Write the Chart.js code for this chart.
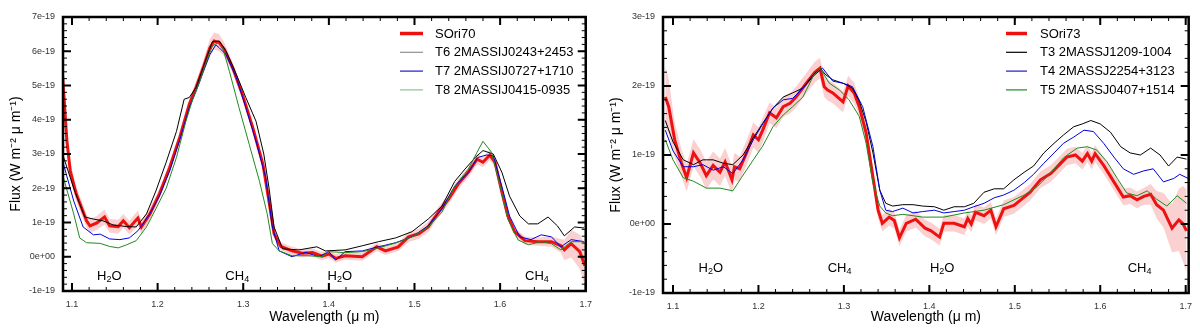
<!DOCTYPE html>
<html><head><meta charset="utf-8">
<script src="https://cdn.jsdelivr.net/npm/chart.js@4/dist/chart.umd.min.js"></script>
<style>
html,body{margin:0;padding:0;background:#fff;}
#wrap{display:flex;width:1200px;height:330px;}
canvas{display:block;}
</style></head><body>
<div id="wrap"><canvas id="c1" width="600" height="330"></canvas><canvas id="c2" width="600" height="330"></canvas></div>
<script>
// Flux values are in units of 1e-19 W m^-2 um^-1 ; wavelengths in um
// ---------- Left panel: SOri70 ----------
const wlL_sori = [1.089,1.094,1.098,1.105,1.117,1.121,1.129,1.138,1.144,1.154,1.160,1.167,1.177,1.181,1.191,1.202,1.214,1.226,1.237,1.245,1.253,1.261,1.266,1.272,1.278,1.288,1.299,1.311,1.323,1.330,1.336,1.344,1.357,1.369,1.381,1.392,1.400,1.408,1.419,1.439,1.456,1.466,1.481,1.493,1.505,1.516,1.528,1.540,1.551,1.563,1.573,1.580,1.588,1.594,1.602,1.609,1.617,1.629,1.644,1.660,1.671,1.675,1.683,1.693,1.699];
const fxL_sori = [5.3,3.4,2.5,1.83,1.05,0.9,0.99,1.16,0.9,0.88,1.05,0.85,1.13,0.87,1.25,1.83,2.6,3.5,4.45,4.95,5.5,6.1,6.3,6.25,6.05,5.5,4.74,3.78,2.7,1.63,0.67,0.3,0.17,0.1,0.12,0.02,0.08,-0.05,0.03,0.0,0.29,0.17,0.29,0.58,0.67,0.87,1.3,1.69,2.12,2.47,2.85,2.76,2.97,2.76,1.89,1.19,0.73,0.47,0.44,0.44,0.32,0.2,0.38,0.15,-0.26];
const erL_sori = [0.35,0.3,0.25,0.22,0.2,0.2,0.2,0.22,0.2,0.2,0.2,0.2,0.22,0.2,0.18,0.15,0.15,0.15,0.15,0.18,0.2,0.25,0.25,0.25,0.2,0.15,0.12,0.12,0.12,0.12,0.12,0.12,0.12,0.12,0.12,0.12,0.12,0.12,0.12,0.12,0.12,0.12,0.12,0.15,0.15,0.15,0.15,0.15,0.15,0.15,0.15,0.15,0.15,0.15,0.15,0.12,0.12,0.12,0.12,0.15,0.2,0.3,0.4,0.5,0.6];
const wlL_t6 = [1.089,1.102,1.115,1.125,1.136,1.148,1.164,1.175,1.187,1.198,1.210,1.222,1.231,1.237,1.245,1.257,1.264,1.272,1.280,1.292,1.303,1.315,1.324,1.330,1.336,1.346,1.365,1.386,1.396,1.419,1.439,1.458,1.478,1.497,1.516,1.532,1.547,1.559,1.571,1.580,1.592,1.602,1.611,1.623,1.633,1.644,1.656,1.667,1.675,1.687,1.698];
const fxL_t6 = [3.0,2.0,1.16,1.1,1.05,0.93,0.88,0.87,1.25,1.92,2.76,3.66,4.6,4.65,4.95,5.8,6.28,6.3,6.0,5.32,4.65,3.95,3.0,2.03,0.87,0.23,0.2,0.29,0.17,0.2,0.32,0.44,0.55,0.73,1.1,1.48,2.2,2.56,2.9,3.1,3.0,2.47,1.77,1.19,0.96,0.96,1.16,0.9,0.61,0.87,0.84];
const wlL_t7 = [1.089,1.102,1.113,1.125,1.133,1.144,1.156,1.167,1.177,1.191,1.202,1.214,1.226,1.237,1.245,1.253,1.261,1.268,1.272,1.280,1.292,1.303,1.315,1.326,1.334,1.342,1.357,1.373,1.388,1.400,1.408,1.419,1.439,1.458,1.478,1.497,1.516,1.532,1.547,1.563,1.574,1.584,1.592,1.602,1.611,1.623,1.636,1.648,1.660,1.671,1.683,1.698];
const fxL_t7 = [2.8,1.63,0.87,0.64,0.66,0.52,0.5,0.55,0.76,1.25,1.77,2.5,3.43,4.36,4.85,5.38,5.9,6.19,6.1,5.9,5.23,4.36,3.37,2.33,0.87,0.17,0.0,0.13,0.0,0.15,-0.1,0.15,0.17,0.29,0.41,0.58,0.9,1.4,2.06,2.47,2.9,2.97,2.95,2.06,1.19,0.58,0.5,0.64,0.58,0.29,0.5,0.44];
const wlL_t8 = [1.089,1.102,1.109,1.117,1.133,1.144,1.154,1.164,1.175,1.187,1.198,1.210,1.222,1.233,1.241,1.249,1.257,1.264,1.270,1.276,1.284,1.295,1.307,1.319,1.328,1.334,1.342,1.357,1.377,1.392,1.400,1.419,1.439,1.458,1.478,1.497,1.516,1.532,1.547,1.563,1.573,1.580,1.590,1.600,1.609,1.621,1.633,1.648,1.660,1.671,1.683,1.698];
const fxL_t8 = [2.4,1.25,0.55,0.41,0.39,0.3,0.26,0.35,0.47,0.87,1.4,2.0,2.9,3.95,4.6,5.1,5.7,6.15,6.25,6.1,5.4,4.36,3.28,2.2,1.25,0.39,0.17,0.03,0.03,0.0,0.15,0.12,0.15,0.26,0.4,0.58,0.87,1.3,2.06,2.56,3.05,3.37,3.05,2.06,1.1,0.49,0.35,0.44,0.38,0.2,0.44,0.44];
const namesL = ['SOri70','T6 2MASSIJ0243+2453','T7 2MASSIJ0727+1710','T8 2MASSIJ0415-0935'];

// ---------- Right panel: SOri73 ----------
const wlR_sori = [1.091,1.095,1.102,1.110,1.116,1.124,1.132,1.139,1.147,1.155,1.161,1.169,1.172,1.178,1.186,1.194,1.200,1.205,1.213,1.221,1.229,1.237,1.244,1.256,1.266,1.272,1.277,1.281,1.287,1.299,1.305,1.312,1.318,1.326,1.334,1.340,1.345,1.353,1.359,1.365,1.373,1.384,1.395,1.402,1.412,1.417,1.429,1.441,1.445,1.449,1.454,1.464,1.472,1.478,1.487,1.499,1.507,1.518,1.530,1.542,1.554,1.561,1.571,1.579,1.585,1.590,1.594,1.604,1.616,1.627,1.635,1.643,1.651,1.659,1.666,1.674,1.684,1.692,1.697,1.701];
const fxR_sori = [1.84,1.7,1.22,0.88,0.67,1.03,0.88,0.7,0.85,0.75,0.9,0.64,0.83,0.8,1.03,1.29,1.22,1.36,1.61,1.54,1.7,1.75,1.84,2.04,2.2,2.26,1.99,1.94,1.9,1.77,2.0,1.9,1.7,1.32,0.68,0.2,0.01,0.1,0.05,-0.2,0.01,0.07,-0.06,-0.1,-0.19,0.01,0.01,-0.04,0.08,0.0,0.17,0.12,0.2,-0.04,0.22,0.27,0.35,0.46,0.64,0.73,0.88,0.97,1.0,0.91,1.02,0.91,1.02,0.85,0.61,0.39,0.41,0.35,0.4,0.43,0.28,0.2,-0.06,0.06,0.0,-0.1];
const erR_sori = [0.45,0.4,0.25,0.2,0.2,0.2,0.2,0.2,0.2,0.2,0.2,0.2,0.2,0.18,0.18,0.18,0.18,0.18,0.15,0.15,0.15,0.15,0.15,0.15,0.15,0.15,0.15,0.15,0.15,0.15,0.15,0.15,0.12,0.12,0.12,0.12,0.12,0.12,0.12,0.12,0.12,0.12,0.12,0.12,0.12,0.12,0.12,0.12,0.12,0.12,0.12,0.12,0.12,0.12,0.12,0.12,0.12,0.12,0.12,0.12,0.12,0.12,0.12,0.12,0.12,0.12,0.12,0.12,0.12,0.12,0.12,0.12,0.12,0.15,0.2,0.25,0.35,0.45,0.55,0.6];
const wlR_t3 = [1.091,1.100,1.112,1.124,1.135,1.147,1.159,1.170,1.182,1.194,1.205,1.217,1.229,1.240,1.252,1.264,1.272,1.279,1.287,1.299,1.310,1.318,1.326,1.334,1.342,1.349,1.357,1.369,1.381,1.392,1.406,1.417,1.429,1.441,1.452,1.464,1.476,1.487,1.499,1.511,1.522,1.534,1.546,1.557,1.569,1.579,1.589,1.600,1.612,1.624,1.635,1.647,1.659,1.670,1.680,1.690,1.701];
const fxR_t3 = [1.5,1.19,0.93,0.86,0.93,0.93,0.88,0.86,1.0,1.25,1.46,1.68,1.84,1.9,1.97,2.16,2.26,2.16,2.09,2.04,1.97,1.78,1.48,1.03,0.49,0.3,0.26,0.28,0.28,0.26,0.25,0.2,0.25,0.25,0.3,0.46,0.51,0.51,0.64,0.75,0.84,1.03,1.17,1.29,1.41,1.45,1.5,1.45,1.33,1.12,1.03,1.0,1.1,1.0,0.84,0.97,0.94];
const wlR_t4 = [1.091,1.100,1.112,1.124,1.135,1.147,1.159,1.170,1.182,1.194,1.205,1.217,1.229,1.240,1.252,1.264,1.275,1.287,1.299,1.310,1.322,1.334,1.342,1.349,1.357,1.369,1.381,1.392,1.406,1.417,1.429,1.441,1.452,1.464,1.476,1.487,1.499,1.511,1.522,1.534,1.546,1.557,1.569,1.581,1.592,1.604,1.616,1.627,1.639,1.651,1.662,1.674,1.686,1.693,1.703];
const fxR_t4 = [1.36,1.06,0.83,0.83,0.86,0.78,0.83,0.73,0.93,1.22,1.45,1.68,1.8,1.82,1.97,2.14,2.26,2.07,2.04,1.99,1.7,1.12,0.49,0.2,0.18,0.23,0.16,0.18,0.2,0.16,0.18,0.2,0.25,0.3,0.38,0.42,0.49,0.6,0.72,0.88,1.03,1.17,1.26,1.36,1.34,1.17,0.97,0.8,0.72,0.77,0.8,0.61,0.66,0.72,0.66];
const wlR_t5 = [1.091,1.100,1.112,1.124,1.139,1.155,1.170,1.180,1.194,1.205,1.217,1.229,1.240,1.252,1.264,1.272,1.283,1.295,1.306,1.318,1.326,1.334,1.342,1.349,1.357,1.369,1.381,1.392,1.417,1.441,1.464,1.487,1.511,1.526,1.542,1.557,1.573,1.585,1.596,1.608,1.620,1.631,1.643,1.655,1.666,1.678,1.690,1.701];
const fxR_t5 = [1.22,0.93,0.67,0.62,0.52,0.52,0.48,0.67,0.93,1.13,1.41,1.58,1.7,1.84,2.14,2.26,2.04,1.94,1.8,1.56,1.17,0.59,0.26,0.16,0.12,0.14,0.12,0.1,0.1,0.16,0.2,0.28,0.42,0.54,0.74,0.96,1.1,1.12,1.07,0.9,0.66,0.45,0.41,0.48,0.36,0.26,0.41,0.3];
const namesR = ['SOri73','T3 2MASSJ1209-1004','T4 2MASSJ2254+3123','T5 2MASSJ0407+1514'];

// ---------- Axes / text ----------
const xTickVals = [1.1,1.2,1.3,1.4,1.5,1.6,1.7];
const xTickLabels = ['1.1','1.2','1.3','1.4','1.5','1.6','1.7'];
const yTickValsL = [-1,0,1,2,3,4,5,6,7];
const yTickLabelsL = ['-1e-19','0e+00','1e-19','2e-19','3e-19','4e-19','5e-19','6e-19','7e-19'];
const yTickValsR = [-1,0,1,2,3];
const yTickLabelsR = ['-1e-19','0e+00','1e-19','2e-19','3e-19'];
const xTitle = 'Wavelength (\u03bc m)';
const yTitle = 'Flux (W m\u207b\u00b2 \u03bc m\u207b\u00b9)';
const bandNames = ['H\u2082O','CH\u2084','H\u2082O','CH\u2084'];
const bandWlL = [1.1436,1.293,1.4128,1.643];
const bandYL = [-0.52,-0.52,-0.52,-0.52];
const bandWlR = [1.1443,1.2949,1.415,1.646];
const bandYR = [-0.62,-0.62,-0.62,-0.62];

Chart.defaults.font.family = '"Liberation Sans", Arial, Helvetica, sans-serif';

function pts(wl, fx){ return wl.map((w,i)=>({x:w, y:fx[i]})); }
function bandPts(wl, fx, er, s){ return wl.map((w,i)=>({x:w, y:fx[i] + s*er[i]})); }
function labelFor(vals, labels, v){
  const i = vals.findIndex(t => Math.abs(t - v) < 1e-6);
  return i >= 0 ? labels[i] : '';
}

const frameTicks = {
  id:'frameTicks',
  afterDatasetsDraw(chart, args, o){
    const ctx = chart.ctx, a = chart.chartArea, xs = chart.scales.x, ys = chart.scales.y;
    ctx.save();
    ctx.strokeStyle = '#000';
    function each(scale, step, fn){
      const i0 = Math.ceil(scale.min/step - 1e-6), i1 = Math.floor(scale.max/step + 1e-6);
      for(let i=i0;i<=i1;i++) fn(scale.getPixelForValue(i*step), i*step);
    }
    const drawX = (step, len, lw) => { ctx.lineWidth = lw; ctx.beginPath();
      each(xs, step, p => { ctx.moveTo(p, a.bottom); ctx.lineTo(p, a.bottom-len); ctx.moveTo(p, a.top); ctx.lineTo(p, a.top+len); });
      ctx.stroke(); };
    const drawY = (step, len, lw) => { ctx.lineWidth = lw; ctx.beginPath();
      each(ys, step, p => { ctx.moveTo(a.left, p); ctx.lineTo(a.left+len, p); ctx.moveTo(a.right, p); ctx.lineTo(a.right-len, p); });
      ctx.stroke(); };
    drawX(o.xMinor, 4, 1); drawX(o.xMajor, 8, 2);
    drawY(o.yMinor, 4, 1); drawY(o.yMajor, 8, 2);
    ctx.lineWidth = 2.5;
    ctx.strokeRect(a.left, a.top, a.right-a.left, a.bottom-a.top);
    ctx.restore();
  }
};

const bandText = {
  id:'bandText',
  afterDatasetsDraw(chart, args, o){
    const ctx = chart.ctx, xs = chart.scales.x, ys = chart.scales.y;
    ctx.save();
    ctx.fillStyle = '#000';
    ctx.textBaseline = 'alphabetic';
    const subMap = {'\u2080':'0','\u2081':'1','\u2082':'2','\u2083':'3','\u2084':'4'};
    o.names.forEach((name, k) => {
      const parts = [...name].map(c => subMap[c] ? {t:subMap[c], sub:true} : {t:c, sub:false});
      const big = '13px "Liberation Sans", Arial, sans-serif', small = '9px "Liberation Sans", Arial, sans-serif';
      let w = 0;
      parts.forEach(p => { ctx.font = p.sub ? small : big; w += ctx.measureText(p.t).width; });
      let x = xs.getPixelForValue(o.wl[k]) - w/2;
      const yb = ys.getPixelForValue(o.y[k]) + 5;
      parts.forEach(p => { ctx.font = p.sub ? small : big; ctx.fillText(p.t, x, p.sub ? yb+2 : yb); x += ctx.measureText(p.t).width; });
    });
    ctx.restore();
  }
};

const legendBox = {
  id:'legendBox',
  afterDraw(chart, args, o){
    const ctx = chart.ctx;
    ctx.save();
    ctx.font = '13px "Liberation Sans", Arial, sans-serif';
    ctx.textBaseline = 'middle';
    ctx.fillStyle = '#000';
    o.labels.forEach((lab, i) => {
      const y = o.top + i*o.row;
      ctx.strokeStyle = o.colors[i]; ctx.lineWidth = o.widths[i];
      ctx.beginPath(); ctx.moveTo(o.x1, y); ctx.lineTo(o.x2, y); ctx.stroke();
      ctx.fillText(lab, o.tx, y + 0.5);
    });
    ctx.restore();
  }
};

function makePanel(id, P){
  const red = '#ee1111';
  const datasets = [
    {label:'err+', data:bandPts(P.wl[0],P.fx[0],P.er,1), borderWidth:0, pointRadius:0, fill:false, order:10},
    {label:'err-', data:bandPts(P.wl[0],P.fx[0],P.er,-1), borderWidth:0, pointRadius:0, fill:'-1', backgroundColor:'rgba(244,150,150,0.45)', order:10},
    {label:P.names[0], data:pts(P.wl[0],P.fx[0]), borderColor:red, borderWidth:3, pointRadius:0, fill:false, order:5},
    {label:P.names[1], data:pts(P.wl[1],P.fx[1]), borderColor:'#000000', borderWidth:1, pointRadius:0, fill:false, order:3},
    {label:P.names[2], data:pts(P.wl[2],P.fx[2]), borderColor:'#0000dd', borderWidth:1, pointRadius:0, fill:false, order:2},
    {label:P.names[3], data:pts(P.wl[3],P.fx[3]), borderColor:'#1f8a1f', borderWidth:1, pointRadius:0, fill:false, order:1}
  ];
  return new Chart(document.getElementById(id), {
    type:'line',
    data:{datasets},
    plugins:[frameTicks, bandText, legendBox],
    options:{
      responsive:false, animation:false, events:[],
      layout:{padding:{top:17, right:P.padRight, left:0, bottom:0}},
      elements:{line:{tension:0}},
      plugins:{
        legend:{display:false}, tooltip:{enabled:false},
        frameTicks:{xMajor:0.1, xMinor:0.02, yMajor:1, yMinor:0.2},
        bandText:{names:bandNames, wl:P.bandWl, y:P.bandY},
        legendBox:{labels:P.names, colors:P.legendColors, widths:[3.5,1.2,1.2,1.2], x1:P.lx1, x2:P.lx2, tx:P.tx, top:33.5, row:18.8}
      },
      scales:{
        x:{type:'linear', min:P.xMin, max:P.xMax,
           afterFit(s){ s.height = P.xAxisH; },
           grid:{display:false, drawTicks:false}, border:{display:false},
           ticks:{stepSize:0.1, includeBounds:false, autoSkip:false, maxRotation:0, padding:8, color:'#333', font:{size:9},
                  callback:v => labelFor(xTickVals, xTickLabels, v)},
           title:{display:true, text:xTitle, color:'#000', font:{size:14}, padding:{top:0, bottom:4}}},
        y:{type:'linear', min:P.yMin, max:P.yMax,
           afterFit(s){ s.width = 63; },
           grid:{display:false, drawTicks:false}, border:{display:false},
           ticks:{stepSize:1, autoSkip:false, padding:8, color:'#333', font:{size:9},
                  callback:v => labelFor(P.yTickVals, P.yTickLabels, v)},
           title:{display:true, text:yTitle, color:'#000', font:{size:14}, padding:{top:8, bottom:0}}}
      }
    }
  });
}

makePanel('c1', {
  wl:[wlL_sori, wlL_t6, wlL_t7, wlL_t8], fx:[fxL_sori, fxL_t6, fxL_t7, fxL_t8], er:erL_sori,
  names:namesL, legendColors:['#ee1111','#909090','#1a1acc','#8fbf8f'],
  xMin:1.0895, xMax:1.7, yMin:-1, yMax:7, yTickVals:yTickValsL, yTickLabels:yTickLabelsL,
  bandWl:bandWlL, bandY:bandYL, padRight:12, xAxisH:39, lx1:400, lx2:423, tx:435
});
makePanel('c2', {
  wl:[wlR_sori, wlR_t3, wlR_t4, wlR_t5], fx:[fxR_sori, fxR_t3, fxR_t4, fxR_t5], er:erR_sori,
  names:namesR, legendColors:['#ee1111','#000000','#1a1acc','#1f8a1f'],
  xMin:1.0883, xMax:1.7035, yMin:-1, yMax:3, yTickVals:yTickValsR, yTickLabels:yTickLabelsR,
  bandWl:bandWlR, bandY:bandYR, padRight:10, xAxisH:37, lx1:406, lx2:427, tx:440
});
</script>
</body></html>
